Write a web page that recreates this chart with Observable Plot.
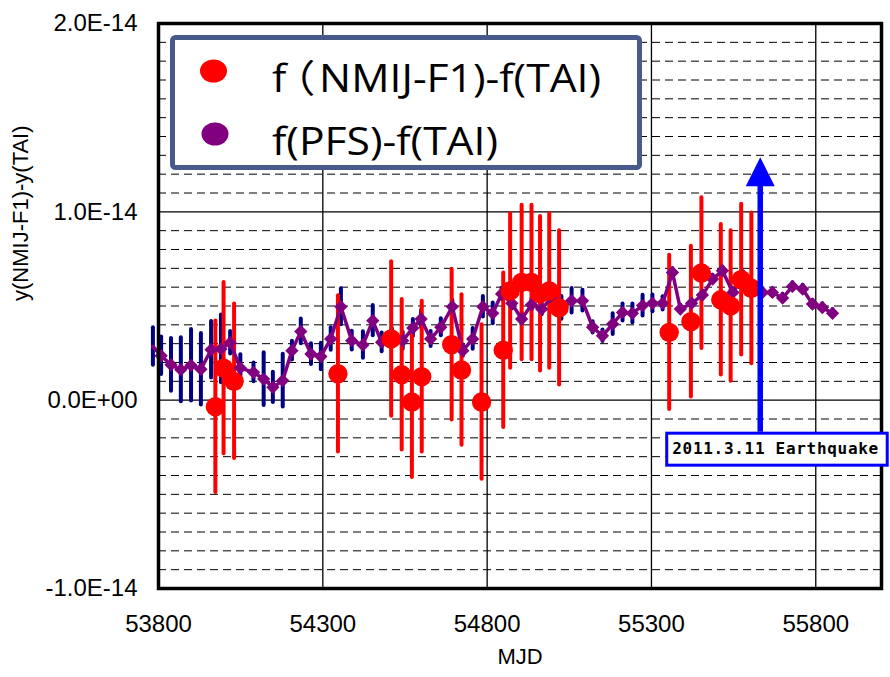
<!DOCTYPE html>
<html>
<head>
<meta charset="utf-8">
<script src="https://cdn.jsdelivr.net/npm/d3@7"></script>
<script src="https://cdn.jsdelivr.net/npm/@observablehq/plot@0.6"></script>
<style>
  html, body { margin: 0; padding: 0; background: #fff; }
  #chart { width: 890px; height: 677px; }
  .palt { font-feature-settings: "palt" 1; }
</style>
</head>
<body>
<div id="chart"></div>
<script>
// ---------- data (values in units of 1E-14) ----------
const xTicks = [53800, 54300, 54800, 55300, 55800];
const yTicks = [-1, 0, 1, 2];
const yTickLabels = ["-1.0E-14", "0.0E+00", "1.0E-14", "2.0E-14"];
const xTitle = "MJD";
const yTitle = "y(NMIJ-F1)-y(TAI)";
const seriesNames = ["f\uFF08NMIJ-F1)-f(TAI)", "f(PFS)-f(TAI)"];

// f(PFS)-f(TAI)
const pfsMJD = [53783, 53808, 53838, 53868, 53899, 53929, 53960, 53990, 54018, 54049,
  54089, 54120, 54148, 54178, 54206, 54233, 54264, 54294, 54324, 54355,
  54388, 54422, 54452, 54479, 54510, 54543, 54574, 54599, 54628, 54659,
  54694, 54726, 54756, 54787, 54817, 54844, 54875, 54905, 54935, 54966,
  54996, 55026, 55057, 55090, 55121, 55151, 55182, 55212, 55242, 55273,
  55303, 55334, 55364, 55388, 55422, 55455, 55486, 55516, 55548, 55579,
  55609, 55638, 55668, 55699, 55729, 55760, 55790, 55820, 55851];
const pfsValue = [0.285, 0.236, 0.188, 0.162, 0.185, 0.164, 0.268, 0.272, 0.305, 0.171,
  0.148, 0.112, 0.068, 0.104, 0.263, 0.365, 0.245, 0.232, 0.325, 0.496,
  0.316, 0.293, 0.422, 0.307, 0.330, 0.316, 0.383, 0.431, 0.325, 0.387,
  0.496, 0.263, 0.325, 0.496, 0.461, 0.564, 0.514, 0.431, 0.507, 0.484,
  0.546, 0.490, 0.528, 0.528, 0.387, 0.342, 0.404, 0.466, 0.461, 0.502,
  0.514, 0.514, 0.678, 0.484, 0.514, 0.558, 0.643, 0.687, 0.572, 0.660,
  0.590, 0.572, 0.572, 0.542, 0.604, 0.590, 0.510, 0.492, 0.461];
const pfsErr = [0.10, 0.10, 0.14, 0.17, 0.19, 0.19, 0.15, 0.18, 0.06, 0.07,
  0.05, 0.14, 0.08, 0.14, 0.05, 0.066, 0.055, 0.07, 0.06, 0.095,
  0.05, 0.07, 0.08, 0.05, 0.05, 0.045, 0.045, 0.045, 0.04, 0.045,
  0.035, 0.03, 0.055, 0.055, 0.055, 0.03, 0.03, 0.03, 0.03, 0.03,
  0.03, 0.06, 0.065, 0.055, 0.03, 0.03, 0.055, 0.045, 0.05, 0.055,
  0.045, 0.035, 0.02, 0.02, 0.02, 0.02, 0.02, 0.02, 0.02, 0.02,
  0.02, 0.02, 0.02, 0.02, 0.02, 0.02, 0.02, 0.02, 0.02];

// f(NMIJ-F1)-f(TAI)
const nmijMJD = [53973, 53998, 54030, 54346, 54508, 54540, 54571, 54601, 54692, 54722,
  54783, 54849, 54870, 54905, 54935, 54961, 54989, 55019, 55354, 55420,
  55452, 55511, 55541, 55573, 55604];
const nmijValue = [-0.035, 0.17, 0.10, 0.14, 0.325, 0.135, -0.01, 0.125, 0.295, 0.16,
  -0.01, 0.265, 0.58, 0.625, 0.625, 0.565, 0.58, 0.49, 0.36, 0.417,
  0.675, 0.533, 0.50, 0.64, 0.594];
const nmijErr = [0.455, 0.455, 0.41, 0.415, 0.41, 0.40, 0.40, 0.40, 0.40, 0.40,
  0.41, 0.41, 0.41, 0.41, 0.41, 0.41, 0.41, 0.41, 0.41, 0.40,
  0.40, 0.40, 0.40, 0.40, 0.40];

// annotation
const eventMJD = [55631];
const eventLabel = ["2011.3.11 Earthquake"];

// ---------- build tables ----------
const pfs = pfsMJD.map((m, i) => ({mjd: m, v: pfsValue[i], e: pfsErr[i]}));
const nmij = nmijMJD.map((m, i) => ({mjd: m, v: nmijValue[i], e: nmijErr[i]}));
const events = eventMJD.map((m, i) => ({mjd: m, label: eventLabel[i]}));
const yLabelMap = new Map(yTicks.map((t, i) => [t, yTickLabels[i]]));
const minorY = d3.range(-9, 20).map(k => k / 10).filter(v => Math.abs(v - Math.round(v)) > 1e-9);
const arrowBottom = -0.17, arrowTop = 1.29;

const arrowHead = {
  draw(ctx, size) {
    const s = Math.sqrt(size / Math.PI);
    ctx.moveTo(0, 0);
    ctx.lineTo(s, 2 * s);
    ctx.lineTo(-s, 2 * s);
    ctx.closePath();
  }
};

const chart = Plot.plot({
  width: 890,
  height: 677,
  marginLeft: 158,
  marginRight: 9,
  marginTop: 23,
  marginBottom: 89,
  x: {domain: [53800, 56000]},
  y: {domain: [-1, 2]},
  style: {fontFamily: "'Liberation Sans', Arial, sans-serif", fontSize: "24px", background: "#fff", color: "#000"},
  marks: [
    Plot.ruleY(minorY, {stroke: "#000", strokeWidth: 1, strokeDasharray: "8,5"}),
    Plot.ruleY([0, 1], {stroke: "#000", strokeWidth: 1.3}),
    Plot.ruleX(xTicks.slice(1), {stroke: "#000", strokeWidth: 1.3}),
    Plot.ruleX(pfs, {x: "mjd", y1: d => d.v - d.e, y2: d => d.v + d.e, stroke: "#000080", strokeWidth: 4, strokeLinecap: "round"}),
    Plot.ruleX(nmij, {x: "mjd", y1: d => d.v - d.e, y2: d => d.v + d.e, stroke: "#ff0000", strokeWidth: 4, strokeLinecap: "round"}),
    Plot.line(pfs, {x: "mjd", y: "v", stroke: "#800080", strokeWidth: 3.5}),
    Plot.dot(pfs.filter(d => d.mjd >= 53800), {x: "mjd", y: "v", symbol: "diamond2", r: 6, fill: "#800080"}),
    Plot.dot(nmij, {x: "mjd", y: "v", r: 9.7, fill: "#ff0000"}),
    Plot.frame({stroke: "#000", strokeWidth: 3.5}),
    Plot.axisX({ticks: xTicks, tickSize: 0, tickPadding: 26, tickFormat: d => String(d), label: null}),
    Plot.axisY({ticks: yTicks, tickSize: 0, tickPadding: 21, tickFormat: d => yLabelMap.get(d), label: null}),
    Plot.text([xTitle], {frameAnchor: "bottom", dy: 75, fontSize: 22}),
    Plot.text([yTitle], {frameAnchor: "left", rotate: -90, dx: -138, dy: -5, fontSize: 22}),
    Plot.ruleX(events, {x: "mjd", y1: arrowBottom, y2: arrowTop - 0.08, stroke: "#0000ff", strokeWidth: 5.5}),
    Plot.dot(events, {x: "mjd", y: arrowTop, symbol: arrowHead, r: 14.5, fill: "#0000ff", stroke: null})
  ]
});
document.getElementById("chart").appendChild(chart);

// ---------- legend and annotation box drawn into the same svg ----------
const svg = d3.select(chart);
const xs = chart.scale("x"), ys = chart.scale("y");

const lg = svg.append("g").attr("text-anchor", "start");
lg.append("rect").attr("x", 172.5).attr("y", 37.5).attr("width", 467).attr("height", 130)
  .attr("rx", 3).attr("fill", "#fff").attr("stroke", "#485a8b").attr("stroke-width", 5);
lg.append("ellipse").attr("cx", 213.5).attr("cy", 71).attr("rx", 13.5).attr("ry", 11.5).attr("fill", "#ff0000");
lg.append("ellipse").attr("cx", 215).attr("cy", 134).attr("rx", 13.5).attr("ry", 11.5).attr("fill", "#800080");
seriesNames.forEach((name, i) => {
  const by = 92 + i * 63;
  const t = lg.append("text")
    .attr("class", "palt")
    .attr("x", 272).attr("y", by)
    .attr("text-anchor", "start")
    .attr("font-family", "'Open Sans', 'Noto Sans CJK JP', sans-serif")
    .attr("font-size", 41).attr("fill", "#000")
    .attr("transform", `translate(272,${by}) scale(1.04,0.93) translate(-272,${-by})`);
  const k = name.indexOf("\uFF08");
  if (k >= 0) {
    t.append("tspan").text(name.slice(0, k));
    t.append("tspan").attr("dx", 6).text(name[k]);
    t.append("tspan").attr("dx", 5).text(name.slice(k + 1));
  } else {
    t.text(name);
  }
});

events.forEach(ev => {
  const ex = xs.apply(ev.mjd);
  const top = ys.apply(arrowBottom);
  const g = svg.append("g").attr("text-anchor", "start");
  g.append("rect").attr("x", ex - 93).attr("y", top + 1.5).attr("width", 220.5).attr("height", 32)
    .attr("fill", "#fff").attr("stroke", "#0000ff").attr("stroke-width", 3);
  g.append("text").attr("x", ex - 87.5).attr("y", top + 22.5)
    .attr("text-anchor", "start")
    .attr("font-family", "'DejaVu Sans Mono', monospace").attr("font-weight", "bold")
    .attr("font-size", 16).attr("letter-spacing", 0.7).attr("fill", "#000")
    .text(ev.label);
});
</script>
</body>
</html>
